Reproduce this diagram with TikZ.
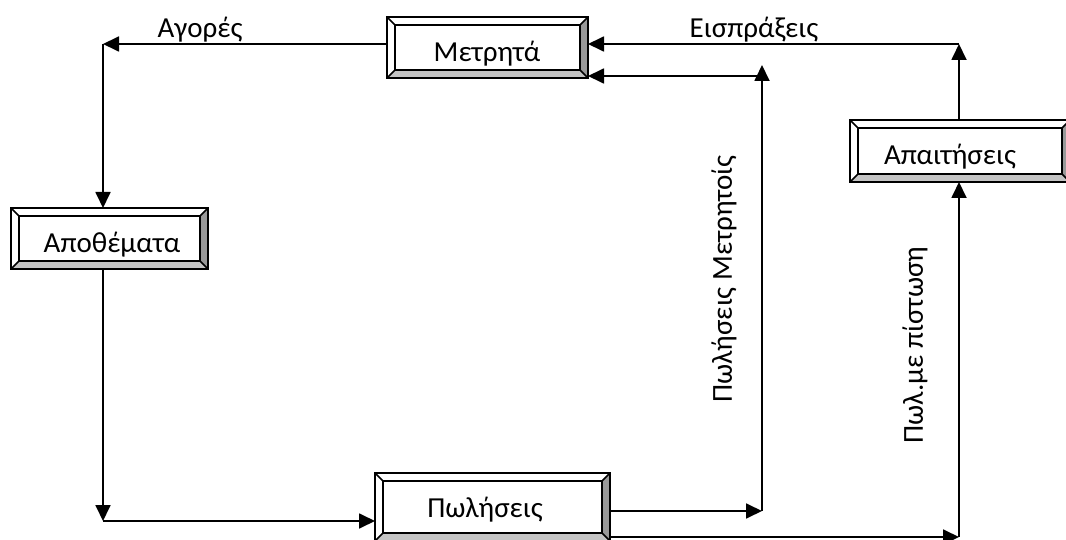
\documentclass[tikz,border=0pt]{standalone}
\usepackage{fontspec}
\setmainfont{Carlito}
\usetikzlibrary{arrows.meta,calc}

\definecolor{bevelside}{HTML}{999999}
\definecolor{bevelbottom}{HTML}{C4C4C4}

% Bevelled frame around a named (empty) node; #2 = bevel depth
\newcommand\bevelframe[2]{%
  \coordinate (#1-inw) at ([shift={(#2,#2)}]#1.north west);
  \coordinate (#1-ine) at ([shift={(-#2,#2)}]#1.north east);
  \coordinate (#1-ise) at ([shift={(-#2,-#2)}]#1.south east);
  \coordinate (#1-isw) at ([shift={(#2,-#2)}]#1.south west);
  \fill[white] (#1.north west) -- (#1.north east) -- (#1.south east) -- (#1.south west) -- cycle;
  \fill[bevelside] (#1.north east) -- (#1.south east) -- (#1-ise) -- (#1-ine) -- cycle;
  \fill[bevelbottom] (#1.south west) -- (#1.south east) -- (#1-ise) -- (#1-isw) -- cycle;
  \draw[frameline] (#1.north west) -- (#1.north east) -- (#1.south east) -- (#1.south west) -- cycle;
  \draw[frameline] (#1-inw) -- (#1-ine) -- (#1-ise) -- (#1-isw) -- cycle;
  \draw[frameline] (#1.north west) -- (#1-inw) (#1.north east) -- (#1-ine)
                   (#1.south east) -- (#1-ise) (#1.south west) -- (#1-isw);
}

\begin{document}
\begin{tikzpicture}[x=1pt,y=-1pt,
  box/.style={inner sep=0pt,outer sep=0pt,minimum width=#1},
  frameline/.style={line width=1.6pt,line join=miter},
  lbl/.style={font=\fontsize{29}{33}\selectfont,inner sep=0pt},
  arr/.style={line width=1.8pt,-{Triangle[length=16pt,width=15pt]}},
  ln/.style={line width=1.8pt}]
\useasboundingbox (0,0) rectangle (1066,540);

% boxes
\node[box=201pt,minimum height=61pt] (met) at (487.5,47.5) {};
\node[box=197pt,minimum height=61pt] (apo) at (109.5,238.5) {};
\node[box=235pt,minimum height=68pt] (pol) at (492.5,507) {};
\node[box=220pt,minimum height=62pt] (apa) at (960,151) {};
\bevelframe{met}{8}
\bevelframe{apo}{8}
\bevelframe{pol}{8}
\bevelframe{apa}{8}

% box texts
\node[lbl,anchor=base] (met-t) at (487,62) {Μετρητά};
\node[lbl,anchor=base] (apo-t) at (112,253) {Αποθέματα};
\node[lbl,anchor=base] (pol-t) at (485,517) {Πωλήσεις};
\node[lbl,anchor=base] (apa-t) at (950,165) {Απαιτήσεις};

% corner points of the flows
\coordinate (c1) at (103,44);
\coordinate (c2) at (103,521);
\coordinate (c3) at (762,511);
\coordinate (c4) at (762,65);
\coordinate (c4b) at (762,76);
\coordinate (c5) at (959,537);
\coordinate (c6) at (959,44);

% purchases: cash -> inventory
\draw[arr] (met.west |- c1) -- (c1);
\draw[arr] (c1) -- (c1 |- apo.north);
% inventory -> sales
\draw[arr] (c2 |- apo.south) -- (c2);
\draw[arr] (c2) -- (pol.west |- c2);
% cash sales -> cash
\draw[arr] (pol.east |- c3) -- (c3);
\draw[arr] (c3) -- (c4);
\draw[arr] (c4b) -- (met.east |- c4b);
% credit sales -> receivables
\draw[arr] (pol.east |- c5) -- (c5);
\draw[arr] (c5) -- (c5 |- apa.south);
% collections -> cash
\draw[arr] (c6 |- apa.north) -- (c6);
\draw[arr] (c6) -- (met.east |- c6);

% flow labels
\node[lbl,anchor=base] (l-agor) at (200,38) {Αγορές};
\node[lbl,anchor=base] (l-eisp) at (754,38) {Εισπράξεις};
\node[lbl,rotate=90] (l-polm) at (724,279) {Πωλήσεις Μετρητοίς};
\node[lbl,rotate=90] (l-polp) at (915,345) {Πωλ.με πίστωση};
\end{tikzpicture}
\end{document}
